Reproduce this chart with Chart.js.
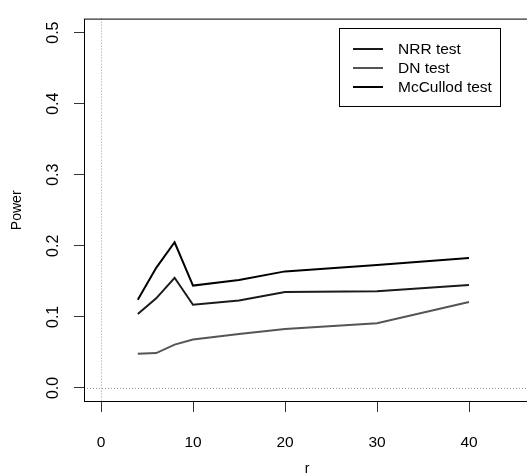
<!DOCTYPE html>
<html>
<head>
<meta charset="utf-8">
<script src="https://cdn.jsdelivr.net/npm/chart.js@4/dist/chart.umd.min.js"></script>
<style>
	html, body { margin: 0; padding: 0; background: #fff; overflow: hidden; }
	canvas { display: block; }
</style>
</head>
<body>
<canvas id="chart-1" width="530" height="475"></canvas>
<script>
// values
const rValues = [4, 6, 8, 10, 15, 20, 30, 40];
const nrrPower = [0.104, 0.126, 0.155, 0.117, 0.123, 0.135, 0.136, 0.145];
const dnPower = [0.048, 0.049, 0.061, 0.068, 0.076, 0.083, 0.091, 0.121];
const mccullodPower = [0.124, 0.169, 0.205, 0.144, 0.152, 0.164, 0.173, 0.183];
const seriesLabels = ["NRR test", "DN test", "McCullod test"];
const xTicks = [0, 10, 20, 30, 40];
const yTicks = [0, 0.1, 0.2, 0.3, 0.4, 0.5];
const refLines = { x: 0, y: 0 };

const font = "'Liberation Sans', Arial, Helvetica, sans-serif";

function toPoints(values) {
	return rValues.map((r, i) => ({ x: r, y: values[i] }));
}

function makeDataset(label, values, color) {
	return {
		label: label,
		data: toPoints(values),
		borderColor: color,
		borderWidth: 2,
		pointRadius: 0,
		tension: 0,
		fill: false,
	};
}

// dotted reference lines at x = 0 and y = 0
const refLinesPlugin = {
	id: "refLines",
	beforeDatasetsDraw(chart) {
		const { ctx, chartArea, scales } = chart;
		const px = Math.round(scales.x.getPixelForValue(refLines.x)) + 0.5;
		const py = Math.round(scales.y.getPixelForValue(refLines.y)) + 0.5;
		ctx.save();
		ctx.strokeStyle = "#9a9a9a";
		ctx.lineWidth = 1;
		ctx.setLineDash([1, 2]);
		ctx.beginPath();
		ctx.moveTo(px, chartArea.top);
		ctx.lineTo(px, chartArea.bottom);
		ctx.moveTo(chartArea.left, py);
		ctx.lineTo(chartArea.right, py);
		ctx.stroke();
		ctx.restore();
	}
};

// box round the plot and the boxed legend in the top right
const boxLegendPlugin = {
	id: "boxLegend",
	afterDatasetsDraw(chart) {
		const { ctx, chartArea } = chart;
		ctx.save();
		ctx.strokeStyle = "#000";
		ctx.lineWidth = 1;
		ctx.strokeRect(chartArea.left + 0.5, chartArea.top + 0.5,
			chartArea.right - chartArea.left, chartArea.bottom - chartArea.top - 1);

		const boxX = 339.5, boxY = 28.5, boxW = 161, boxH = 78;
		ctx.fillStyle = "#fff";
		ctx.fillRect(boxX, boxY, boxW, boxH);
		ctx.strokeRect(boxX, boxY, boxW, boxH);

		ctx.font = "15.5px " + font;
		ctx.textBaseline = "middle";
		ctx.textAlign = "left";
		chart.data.datasets.forEach((ds, i) => {
			const y = 49 + i * 19;
			ctx.strokeStyle = ds.borderColor;
			ctx.lineWidth = ds.borderWidth;
			ctx.beginPath();
			ctx.moveTo(353, y);
			ctx.lineTo(383, y);
			ctx.stroke();
			ctx.fillStyle = "#000";
			ctx.fillText(ds.label, 398, y + 1);
		});
		ctx.restore();
	}
};

new Chart("chart-1", {
	type: "line",
	data: {
		datasets: [
			makeDataset(seriesLabels[0], nrrPower, "#1a1a1a"),
			makeDataset(seriesLabels[1], dnPower, "#555555"),
			makeDataset(seriesLabels[2], mccullodPower, "#000000"),
		]
	},
	options: {
		responsive: false,
		animation: false,
		layout: { padding: { top: 13, right: 0, left: 0, bottom: 0 } },
		plugins: {
			legend: { display: false },
			tooltip: { enabled: false },
		},
		scales: {
			x: {
				type: "linear",
				min: -1.848,
				max: 46.63,
				afterBuildTicks: scale => { scale.ticks = xTicks.map(v => ({ value: v })); },
				afterFit: scale => { scale.height = 73; },
				grid: { drawOnChartArea: false, tickLength: 10, color: "#333", tickWidth: 1 },
				border: { display: false },
				ticks: { color: "#000", padding: 21, maxRotation: 0, font: { family: font, size: 15.5 } },
				title: { display: true, text: "r", color: "#000", padding: { top: 0, bottom: -3 }, font: { family: font, size: 14 } },
			},
			y: {
				min: -0.0198,
				max: 0.5197,
				afterBuildTicks: scale => { scale.ticks = yTicks.map(v => ({ value: v })); },
				afterFit: scale => { scale.width = 84; },
				grid: { drawOnChartArea: false, tickLength: 10, color: "#333", tickWidth: 1 },
				border: { display: false },
				ticks: {
					color: "#000",
					padding: 9,
					crossAlign: "center",
					minRotation: 90,
					maxRotation: 90,
					font: { family: font, size: 16 },
					callback: v => v.toFixed(1),
				},
				title: { display: true, text: "Power", color: "#000", padding: { top: 9, bottom: 0 }, font: { family: font, size: 14 } },
			}
		}
	},
	plugins: [refLinesPlugin, boxLegendPlugin]
});
</script>
</body>
</html>
